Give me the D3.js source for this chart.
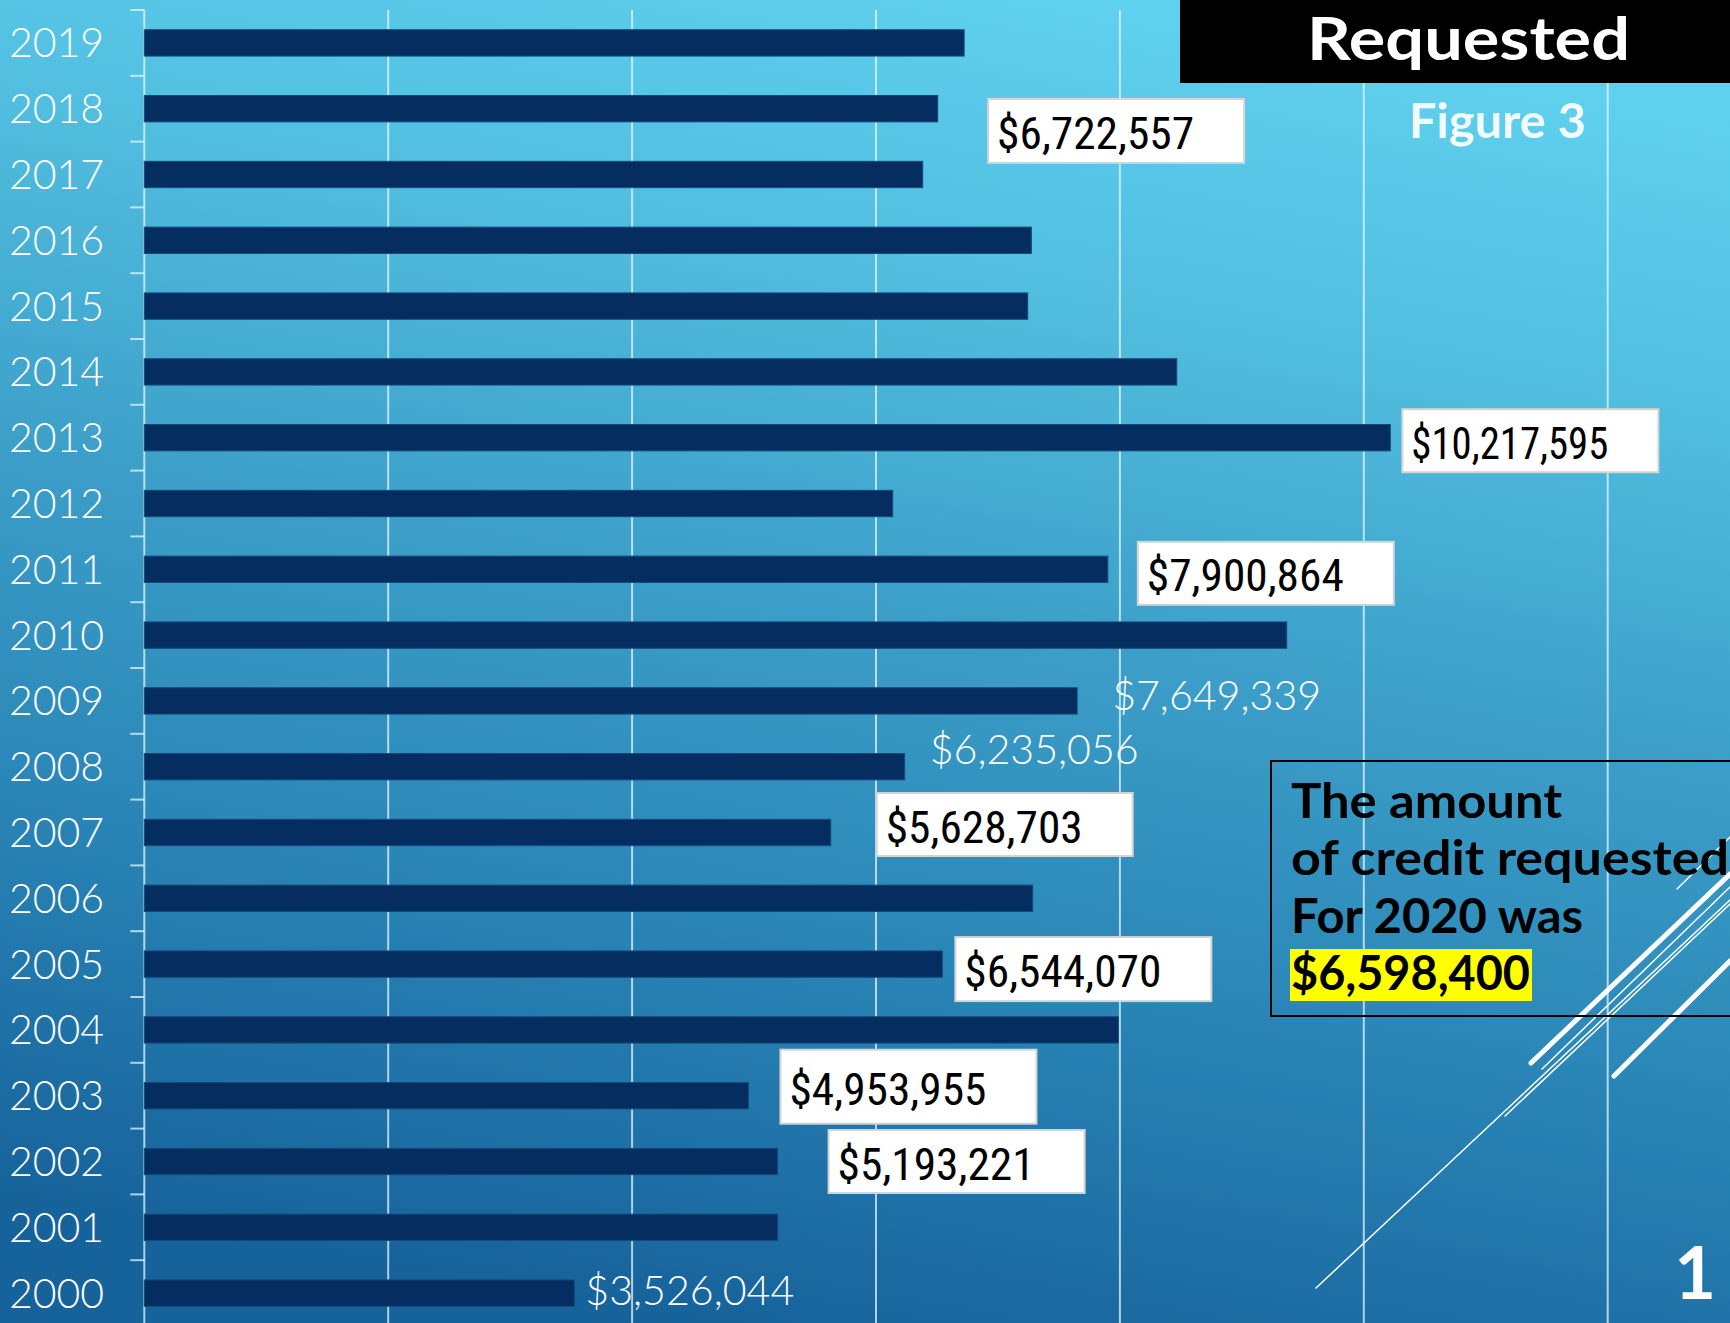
<!DOCTYPE html>
<html>
<head>
<meta charset="utf-8">
<script src="https://cdn.jsdelivr.net/npm/d3@7"></script>
<style>
    body { margin: 0; overflow: hidden; background: #3da0c9; }
</style>
</head>
<body>
<div id="chart"></div>
<script>
// credit requested per year, top row first
const years = [2019, 2018, 2017, 2016, 2015, 2014, 2013, 2012, 2011, 2010,
               2009, 2008, 2007, 2006, 2005, 2004, 2003, 2002, 2001, 2000];
const requested = [6722557, 6506000, 6383000, 7274000, 7244000, 8466000, 10217595, 6137000, 7900864, 9368000,
                   7649339, 6235056, 5628703, 7285000, 6544070, 7987000, 4953955, 5193221, 5194000, 3526044];
const xTicks = [2000000, 4000000, 6000000, 8000000, 10000000, 12000000];

// years whose value is printed on the slide
const boxedLabels = [2019, 2013, 2011, 2007, 2005, 2003, 2002];
const plainLabels = [2009, 2008, 2000];

const titleText = 'Requested';
const figureText = 'Figure 3';
const noteLines = ['The amount', 'of credit requested', 'For 2020 was'];
const noteValue = 6598400;
const slideNumber = '1';

class RequestedChart {
    constructor(width, height, selector) {
        this._width = width;
        this._height = height;
        this._selector = selector;
        this._data = years.map((y, i) => ({ year: y, value: requested[i] }));
        this._fmt = d3.format('$,');
        // hand-placed label nudges from the slide: [dx from bar end, dy from row centre, box height]
        this._boxNudge = {
            2019: [24, 88, 64], 2013: [12, 3, 63], 2011: [30, 4, 63], 2007: [46, -8, 63],
            2005: [13, 5, 64], 2003: [32, -9, 74], 2002: [51, 0, 63]
        };
        this._plainNudge = { 2009: [35, 9], 2008: [25, -3], 2000: [11, 12] };
    }

    render() {
        var that = this;

        this._svg = d3.select(that._selector)
            .append('svg')
            .attr('width', that._width)
            .attr('height', that._height);

        var defs = this._svg.append('defs');
        var grad = defs.append('linearGradient')
            .attr('id', 'bg')
            .attr('x1', 0.62).attr('y1', 0).attr('x2', 0.38).attr('y2', 1);
        [[0, '#5fd0ee'], [0.2, '#52bfe0'], [0.45, '#3da0c9'], [0.7, '#2a86b7'], [1, '#16629a']]
            .forEach(s => grad.append('stop').attr('offset', s[0]).attr('stop-color', s[1]));

        this._svg.append('rect')
            .attr('width', that._width).attr('height', that._height)
            .attr('fill', 'url(#bg)');

        this._x = d3.scaleLinear().domain([0, 12000000]).range([144.3, 1607.7]);
        this._y = d3.scaleBand().domain(years).range([10, 1326])
            .paddingInner(0.6).paddingOuter(0.3);

        var step = this._y.step();
        var gridColor = 'rgba(225,245,252,0.75)';

        // vertical gridlines
        this._svg.append('g')
            .selectAll('line')
            .data(xTicks)
            .join('line')
            .attr('x1', d => that._x(d)).attr('x2', d => that._x(d))
            .attr('y1', 10).attr('y2', that._height)
            .attr('stroke', gridColor)
            .attr('stroke-width', 2);

        // category axis
        var axis = this._svg.append('g');
        axis.append('line')
            .attr('x1', that._x(0)).attr('x2', that._x(0))
            .attr('y1', 10).attr('y2', that._height)
            .attr('stroke', gridColor).attr('stroke-width', 2);
        axis.selectAll('line.tick')
            .data(years)
            .join('line')
            .attr('class', 'tick')
            .attr('x1', that._x(0) - 14).attr('x2', that._x(0))
            .attr('y1', d => that._y(d) - step * 0.3)
            .attr('y2', d => that._y(d) - step * 0.3)
            .attr('stroke', gridColor).attr('stroke-width', 2);
        axis.selectAll('text')
            .data(years)
            .join('text')
            .attr('x', 104)
            .attr('y', d => that._y(d) + that._y.bandwidth() / 2 + 14.5)
            .attr('text-anchor', 'end')
            .style('font-family', 'Lato, "Open Sans", sans-serif')
            .style('font-weight', 300)
            .style('font-size', '41px')
            .style('fill', '#ffffff')
            .text(d => d);

        // bars
        this._svg.append('g')
            .selectAll('rect')
            .data(that._data)
            .join('rect')
            .attr('x', that._x(0))
            .attr('y', d => that._y(d.year))
            .attr('width', d => that._x(d.value) - that._x(0))
            .attr('height', that._y.bandwidth())
            .attr('fill', '#062d5f')
            .attr('stroke', '#134a7c')
            .attr('stroke-width', 1);

        this.decor();
        this.labels();
        this.heading();
        this.note();
    }

    decor() {
        // slide theme strokes, bottom right
        var strokes = [
            [1316, 1288, 1730, 900, 1.5],
            [1505, 1116, 1730, 904, 1.5],
            [1542, 1069, 1730, 887, 1.5],
            [1677, 889, 1730, 837, 1.5],
            [1531, 1063, 1730, 874, 5],
            [1614, 1076, 1730, 961, 5]
        ];
        this._svg.append('g')
            .selectAll('line')
            .data(strokes)
            .join('line')
            .attr('x1', d => d[0]).attr('y1', d => d[1])
            .attr('x2', d => d[2]).attr('y2', d => d[3])
            .attr('stroke', '#ffffff')
            .attr('stroke-width', d => d[4])
            .attr('stroke-linecap', 'round');
    }

    labels() {
        var that = this;
        var rows = this._data;
        var mid = d => that._y(d.year) + that._y.bandwidth() / 2;

        var boxed = this._svg.append('g')
            .selectAll('g')
            .data(rows.filter(d => boxedLabels.indexOf(d.year) != -1))
            .join('g')
            .attr('transform', d => {
                var n = that._boxNudge[d.year];
                return `translate(${that._x(d.value) + n[0]},${mid(d) + n[1] - n[2] / 2})`;
            });
        boxed.append('rect')
            .attr('width', 256)
            .attr('height', d => that._boxNudge[d.year][2])
            .attr('fill', '#ffffff')
            .attr('stroke', '#d4d4d4')
            .attr('stroke-width', 2);
        boxed.append('text')
            .attr('x', 9)
            .attr('y', d => that._boxNudge[d.year][2] / 2 + 18)
            .attr('textLength', 197)
            .attr('lengthAdjust', 'spacingAndGlyphs')
            .style('font-family', '"Liberation Sans Narrow", "Roboto Condensed", "Liberation Sans", sans-serif')
            .style('font-size', '44px')
            .style('fill', '#000000')
            .text(d => that._fmt(d.value));

        this._svg.append('g')
            .selectAll('text')
            .data(rows.filter(d => plainLabels.indexOf(d.year) != -1))
            .join('text')
            .attr('x', d => that._x(d.value) + that._plainNudge[d.year][0])
            .attr('y', d => mid(d) + that._plainNudge[d.year][1])
            .attr('textLength', 209)
            .attr('lengthAdjust', 'spacingAndGlyphs')
            .style('font-family', 'Lato, "Open Sans", sans-serif')
            .style('font-weight', 300)
            .style('font-size', '42px')
            .style('fill', '#ffffff')
            .text(d => that._fmt(d.value));
    }

    heading() {
        this._svg.append('rect')
            .attr('x', 1180).attr('y', 0)
            .attr('width', this._width - 1180).attr('height', 83)
            .attr('fill', '#000000');
        this._svg.append('text')
            .attr('x', 1307).attr('y', 60)
            .attr('textLength', 323)
            .attr('lengthAdjust', 'spacingAndGlyphs')
            .style('font-family', 'Lato, "Open Sans", sans-serif')
            .style('font-weight', 700)
            .style('font-size', '60px')
            .style('fill', '#ffffff')
            .text(titleText);
        this._svg.append('text')
            .attr('x', 1409).attr('y', 138)
            .attr('textLength', 177)
            .attr('lengthAdjust', 'spacingAndGlyphs')
            .style('font-family', 'Lato, "Open Sans", sans-serif')
            .style('font-weight', 700)
            .style('font-size', '48px')
            .style('fill', '#f2fbff')
            .text(figureText);
        this._svg.append('text')
            .attr('x', 1716).attr('y', 1299)
            .attr('text-anchor', 'end')
            .style('font-family', 'Lato, "Open Sans", sans-serif')
            .style('font-weight', 700)
            .style('font-size', '72px')
            .style('fill', '#ffffff')
            .text(slideNumber);
    }

    note() {
        var g = this._svg.append('g');
        var font = 'Lato, "Open Sans", sans-serif';
        var widths = [271, 438, 292];
        g.append('rect')
            .attr('x', 1271).attr('y', 761)
            .attr('width', 480).attr('height', 255)
            .attr('fill', 'none')
            .attr('stroke', '#000000')
            .attr('stroke-width', 2);
        g.append('rect')
            .attr('x', 1290).attr('y', 949)
            .attr('width', 242).attr('height', 52)
            .attr('fill', '#ffff00');
        g.selectAll('text.line')
            .data(noteLines)
            .join('text')
            .attr('class', 'line')
            .attr('x', 1291)
            .attr('y', (d, i) => 818 + i * 57.3)
            .attr('textLength', (d, i) => widths[i])
            .attr('lengthAdjust', 'spacingAndGlyphs')
            .style('font-family', font)
            .style('font-weight', 700)
            .style('font-size', '47px')
            .style('fill', '#000000')
            .text(d => d);
        g.append('text')
            .attr('x', 1291).attr('y', 990)
            .attr('textLength', 239)
            .attr('lengthAdjust', 'spacingAndGlyphs')
            .style('font-family', font)
            .style('font-weight', 700)
            .style('font-size', '47px')
            .style('fill', '#000000')
            .text(this._fmt(noteValue));
    }
}

var chart = new RequestedChart(1730, 1323, '#chart');
chart.render();
</script>
</body>
</html>
